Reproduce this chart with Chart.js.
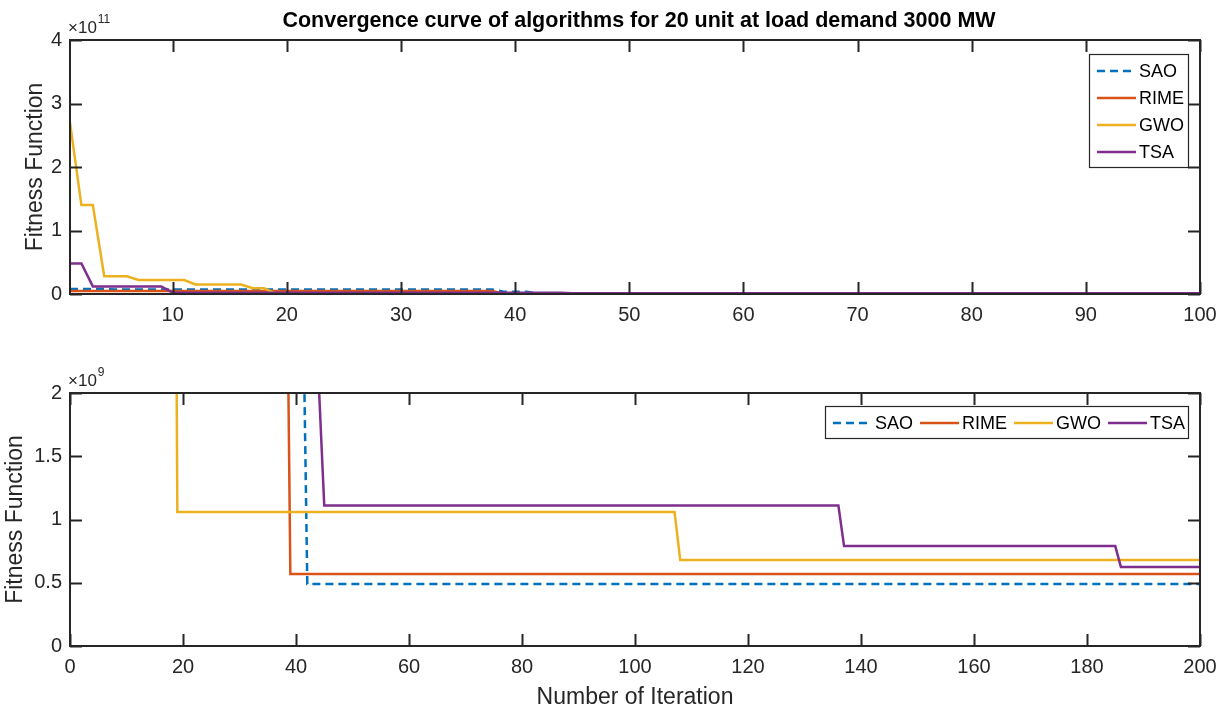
<!DOCTYPE html>
<html>
<head>
<meta charset="utf-8">
<script src="https://cdn.jsdelivr.net/npm/chart.js@4.4.0/dist/chart.umd.min.js"></script>
<style>
  html, body { margin: 0; padding: 0; background: #fff; }
  #wrap { position: relative; width: 1219px; height: 709px; }
  #c1 { position: absolute; left: 0; top: 0; }
  #c2 { position: absolute; left: 0; top: 340px; }
</style>
</head>
<body>
<div id="wrap">
  <canvas id="c1" width="1219" height="340"></canvas>
  <canvas id="c2" width="1219" height="369"></canvas>
</div>
<script>
// algorithm names and MATLAB default colours
var algNames = ['SAO', 'RIME', 'GWO', 'TSA'];
var algColors = ['#0072BD', '#D95319', '#EDB120', '#7E2F8E'];

// best fitness per iteration, given at the iterations where it changes
var saoIter = [1, 4, 5, 38, 39, 41, 42, 200];
var saoFit  = [8e9, 8e9, 7e9, 7e9, 3.5e9, 3.5e9, 0.49e9, 0.49e9];

var rimeIter = [1, 38, 39, 200];
var rimeFit  = [4.8e9, 4.8e9, 0.57e9, 0.57e9];

var gwoIter = [1, 2, 3, 4, 6, 7, 11, 12, 16, 17, 18, 19, 107, 108, 200];
var gwoFit  = [2.7e11, 1.4e11, 1.4e11, 0.28e11, 0.28e11, 0.22e11, 0.22e11, 0.15e11, 0.15e11,
               0.09e11, 0.09e11, 1.06e9, 1.06e9, 0.68e9, 0.68e9];

var tsaIter = [1, 2, 3, 9, 10, 44, 45, 136, 137, 185, 186, 200];
var tsaFit  = [0.48e11, 0.48e11, 0.12e11, 0.12e11, 2.1e9, 2.1e9, 1.11e9, 1.11e9, 0.79e9, 0.79e9, 0.625e9, 0.625e9];

// tick values
var topXTicks = [10, 20, 30, 40, 50, 60, 70, 80, 90, 100];
var topYTicks = [0, 1e11, 2e11, 3e11, 4e11];
var botXTicks = [0, 20, 40, 60, 80, 100, 120, 140, 160, 180, 200];
var botYTicks = [0, 0.5e9, 1e9, 1.5e9, 2e9];

var FONT = '"Liberation Sans", Arial, sans-serif';
var INK = '#262626';

function pts(iter, fit) {
  return iter.map(function (x, i) { return { x: x, y: fit[i] }; });
}

function makeDatasets() {
  var all = [[saoIter, saoFit], [rimeIter, rimeFit], [gwoIter, gwoFit], [tsaIter, tsaFit]];
  return all.map(function (s, i) {
    return {
      label: algNames[i],
      data: pts(s[0], s[1]),
      borderColor: algColors[i],
      backgroundColor: algColors[i],
      borderWidth: 2.5,
      borderDash: i === 0 ? [8, 5] : [],
      pointRadius: 0,
      tension: 0,
      fill: false,
      order: 4 - i
    };
  });
}

// box, inward ticks on all sides, exponent, legend, title
var matlabAxes = {
  id: 'matlabAxes',
  afterDatasetsDraw: function (chart, args, opts) {
    var ctx = chart.ctx, a = chart.chartArea;
    var xs = chart.scales.x, ys = chart.scales.y;
    ctx.save();
    ctx.strokeStyle = INK;
    ctx.lineWidth = 2;
    ctx.beginPath();
    xs.ticks.forEach(function (t) {
      var px = Math.round(xs.getPixelForValue(t.value)) + 0.5;
      ctx.moveTo(px, a.bottom); ctx.lineTo(px, a.bottom - 12);
      ctx.moveTo(px, a.top); ctx.lineTo(px, a.top + 12);
    });
    ys.ticks.forEach(function (t) {
      var py = Math.round(ys.getPixelForValue(t.value)) + 0.5;
      ctx.moveTo(a.left, py); ctx.lineTo(a.left + 12, py);
      ctx.moveTo(a.right, py); ctx.lineTo(a.right - 12, py);
    });
    ctx.stroke();
    ctx.strokeRect(a.left, a.top, a.right - a.left, a.bottom - a.top);

    // exponent label
    ctx.fillStyle = INK;
    ctx.textAlign = 'left';
    ctx.textBaseline = 'alphabetic';
    ctx.font = '17px ' + FONT;
    ctx.fillText('\u00d710', a.left - 2, a.top - 7);
    var w = ctx.measureText('\u00d710').width;
    ctx.font = '12px ' + FONT;
    ctx.fillText(opts.exponent, a.left - 1 + w, a.top - 17);

    // title
    if (opts.title) {
      ctx.font = 'bold 21.5px ' + FONT;
      ctx.textAlign = 'center';
      ctx.fillStyle = '#000';
      ctx.fillText(opts.title, 639, 27);
    }

    // legend box
    var L = opts.legend;
    ctx.fillStyle = '#fff';
    ctx.fillRect(L.x, L.y, L.w, L.h);
    ctx.lineWidth = 1.2;
    ctx.strokeStyle = INK;
    ctx.strokeRect(L.x + 0.5, L.y + 0.5, L.w, L.h);
    ctx.font = '18px ' + FONT;
    ctx.textAlign = 'left';
    ctx.textBaseline = 'middle';
    chart.data.datasets.forEach(function (ds, i) {
      var it = L.items[i];
      ctx.beginPath();
      ctx.strokeStyle = ds.borderColor;
      ctx.lineWidth = 2.5;
      ctx.setLineDash(ds.borderDash);
      ctx.moveTo(it[0], it[1]);
      ctx.lineTo(it[0] + 39, it[1]);
      ctx.stroke();
      ctx.setLineDash([]);
      ctx.fillStyle = '#000';
      ctx.fillText(ds.label, it[0] + 42, it[1] + 1);
    });
    ctx.restore();
  }
};

function axisTitle(text, pad) {
  return { display: true, text: text, color: INK, font: { family: FONT, size: 23, lineHeight: 1 }, padding: pad };
}

function makeConfig(o) {
  return {
    type: 'line',
    data: { datasets: makeDatasets() },
    plugins: [matlabAxes],
    options: {
      responsive: false,
      animation: false,
      layout: { padding: { left: 0, right: 19, top: o.padTop, bottom: 0 } },
      plugins: {
        legend: { display: false },
        tooltip: { enabled: false },
        matlabAxes: { exponent: o.exponent, title: o.title, legend: o.legend }
      },
      scales: {
        x: {
          type: 'linear',
          min: o.xmin, max: o.xmax,
          grid: { display: false, drawTicks: false, tickLength: 0 },
          border: { display: false },
          ticks: { color: INK, font: { family: FONT, size: 20 }, padding: 9, maxRotation: 0 },
          afterBuildTicks: function (s) { s.ticks = o.xTicks.map(function (v) { return { value: v }; }); },
          afterFit: function (s) { s.height = o.xHeight; s.paddingLeft = 0; s.paddingRight = 0; },
          title: o.xTitle ? axisTitle(o.xTitle, { top: 0, bottom: 0 }) : { display: false }
        },
        y: {
          type: 'linear',
          min: o.ymin, max: o.ymax,
          grid: { display: false, drawTicks: false, tickLength: 0 },
          border: { display: false },
          ticks: {
            color: INK, font: { family: FONT, size: 20 }, padding: 8,
            callback: function (v) { return String(+(v / o.ydiv).toFixed(2)); }
          },
          afterBuildTicks: function (s) { s.ticks = o.yTicks.map(function (v) { return { value: v }; }); },
          afterFit: function (s) { s.width = 70; s.paddingTop = 0; s.paddingBottom = 0; },
          title: axisTitle('Fitness Function', { top: o.yTitlePad, bottom: 0 })
        }
      }
    }
  };
}

new Chart(document.getElementById('c1'), makeConfig({
  padTop: 40, xmin: 1, xmax: 100, ymin: 0, ymax: 4e11, ydiv: 1e11,
  xTicks: topXTicks, yTicks: topYTicks, xHeight: 46, exponent: '11', yTitlePad: 24,
  title: 'Convergence curve of algorithms for 20 unit at load demand 3000 MW',
  legend: { x: 1089, y: 54, w: 99, h: 113,
            items: [[1097, 71], [1097, 98], [1097, 125], [1097, 152]] }
}));

new Chart(document.getElementById('c2'), makeConfig({
  padTop: 53, xmin: 0, xmax: 200, ymin: 0, ymax: 2e9, ydiv: 1e9,
  xTicks: botXTicks, yTicks: botYTicks, xHeight: 63, exponent: '9', yTitlePad: 4,
  xTitle: 'Number of Iteration',
  legend: { x: 825, y: 66, w: 363, h: 32,
            items: [[833, 83], [920, 83], [1014, 83], [1108, 83]] }
}));
</script>
</body>
</html>
